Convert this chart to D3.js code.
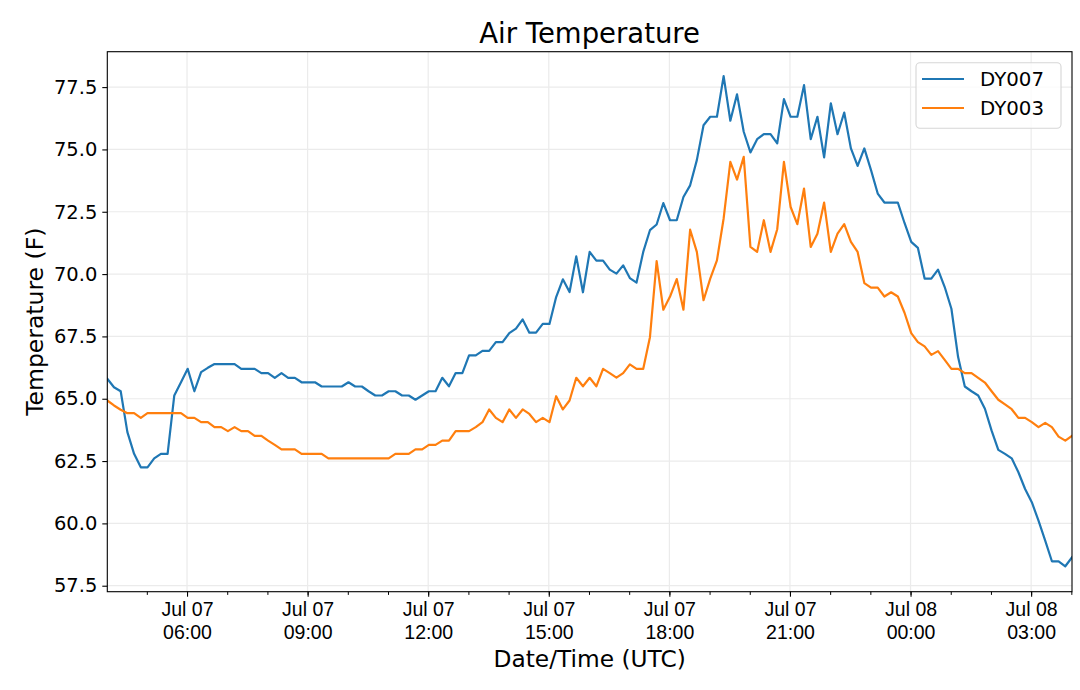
<!DOCTYPE html>
<html>
<head>
<meta charset="utf-8">
<script src="https://cdn.jsdelivr.net/npm/d3@7"></script>
<style>
  html, body { margin: 0; padding: 0; background: #fff; }
  svg { display: block; font-family: "DejaVu Sans", sans-serif; }
</style>
</head>
<body>
<svg id="chart" width="1080" height="690"></svg>
<script>
// ---- Data ----
const seriesNames = ["DY007", "DY003"];
const seriesColors = ["#1f77b4", "#ff7f0e"];
const startTime = "2019-07-07T04:01:00Z";   // first sample
const stepSeconds = 600;                     // 10 minute logging interval

const dy007 = [
  65.80, 65.46, 65.30, 63.66, 62.79, 62.25, 62.25, 62.61, 62.79, 62.79,
  65.13, 65.66, 66.20, 65.30, 66.07, 66.24, 66.39, 66.39, 66.39, 66.39,
  66.20, 66.20, 66.20, 66.03, 66.03, 65.84, 66.03, 65.84, 65.84, 65.66,
  65.66, 65.66, 65.49, 65.49, 65.49, 65.49, 65.66, 65.49, 65.49, 65.30,
  65.13, 65.13, 65.30, 65.30, 65.13, 65.13, 64.96, 65.13, 65.30, 65.30,
  65.84, 65.50, 66.03, 66.03, 66.74, 66.74, 66.92, 66.92, 67.27, 67.27,
  67.63, 67.81, 68.18, 67.65, 67.65, 68.00, 68.00, 69.08, 69.79, 69.28,
  70.71, 69.27, 70.89, 70.54, 70.54, 70.18, 70.02, 70.35, 69.84, 69.66,
  70.89, 71.76, 71.99, 72.85, 72.16, 72.16, 73.09, 73.56, 74.57, 75.97,
  76.31, 76.31, 77.94, 76.15, 77.21, 75.71, 74.88, 75.41, 75.61, 75.61,
  75.24, 77.02, 76.31, 76.31, 77.58, 75.41, 76.31, 74.68, 76.85, 75.61,
  76.48, 75.04, 74.34, 75.04, 74.17, 73.23, 72.87, 72.87, 72.87, 72.05,
  71.29, 71.05, 69.82, 69.82, 70.18, 69.48, 68.61, 66.67, 65.49, 65.30,
  65.13, 64.60, 63.72, 62.95, 62.79, 62.61, 62.05, 61.38, 60.85, 60.11,
  59.31, 58.48, 58.48, 58.28, 58.64
];

const dy003 = [
  64.93, 64.73, 64.56, 64.42, 64.42, 64.23, 64.42, 64.42, 64.42, 64.42,
  64.42, 64.42, 64.23, 64.23, 64.06, 64.06, 63.86, 63.86, 63.70, 63.86,
  63.70, 63.70, 63.51, 63.51, 63.32, 63.15, 62.97, 62.97, 62.97, 62.79,
  62.79, 62.79, 62.79, 62.61, 62.61, 62.61, 62.61, 62.61, 62.61, 62.61,
  62.61, 62.61, 62.61, 62.79, 62.79, 62.79, 62.97, 62.97, 63.15, 63.15,
  63.32, 63.32, 63.70, 63.70, 63.70, 63.86, 64.06, 64.57, 64.23, 64.06,
  64.57, 64.23, 64.57, 64.39, 64.06, 64.23, 64.06, 65.10, 64.57, 64.93,
  65.84, 65.50, 65.84, 65.50, 66.20, 66.03, 65.85, 66.03, 66.38, 66.20,
  66.20, 67.47, 70.52, 68.57, 69.10, 69.80, 68.57, 71.78, 70.89, 68.95,
  69.82, 70.55, 72.23, 74.50, 73.79, 74.70, 71.09, 70.89, 72.16, 70.89,
  71.80, 74.50, 72.69, 72.00, 73.43, 71.09, 71.62, 72.87, 70.89, 71.62,
  72.00, 71.29, 70.89, 69.64, 69.46, 69.46, 69.10, 69.27, 69.10, 68.45,
  67.63, 67.27, 67.10, 66.76, 66.91, 66.56, 66.20, 66.20, 66.03, 66.03,
  65.84, 65.65, 65.30, 64.96, 64.77, 64.58, 64.23, 64.23, 64.06, 63.86,
  64.03, 63.86, 63.48, 63.32, 63.51
];

const yTicks = [57.5, 60.0, 62.5, 65.0, 67.5, 70.0, 72.5, 75.0, 77.5];
const titleText = "Air Temperature";
const xLabelText = "Date/Time (UTC)";
const yLabelText = "Temperature (F)";

// ---- Layout ----
const W = 1080, H = 690;
const plot = { left: 107.3, right: 1072.0, top: 51.7, bottom: 591.7 };

const svg = d3.select("#chart");
const t0 = new Date(startTime).getTime();
const times = dy007.map((_, i) => new Date(t0 + i * stepSeconds * 1000));
const allSeries = [dy007, dy003];

const x = d3.scaleUtc()
  .domain(d3.extent(times))
  .range([plot.left, plot.right]);
const y = d3.scaleLinear()
  .domain([57.26, 78.92])
  .range([plot.bottom, plot.top]);

const majorTicks = d3.utcHour.every(3).range(x.domain()[0], x.domain()[1]);
const minorTicks = d3.utcHour.every(1).range(x.domain()[0], x.domain()[1]);

// Grid
const grid = svg.append("g").attr("class", "grid");
grid.selectAll("line.vx").data(majorTicks).join("line")
  .attr("x1", d => x(d)).attr("x2", d => x(d))
  .attr("y1", plot.top).attr("y2", plot.bottom)
  .attr("stroke", "#ebebeb").attr("stroke-width", 1.2);
grid.selectAll("line.hy").data(yTicks).join("line")
  .attr("x1", plot.left).attr("x2", plot.right)
  .attr("y1", d => y(d)).attr("y2", d => y(d))
  .attr("stroke", "#ebebeb").attr("stroke-width", 1.2);

// Lines
svg.append("clipPath").attr("id", "clip").append("rect")
  .attr("x", plot.left).attr("y", plot.top)
  .attr("width", plot.right - plot.left).attr("height", plot.bottom - plot.top);

const line = d3.line()
  .x((d, i) => x(times[i]))
  .y(d => y(d));

svg.append("g").attr("clip-path", "url(#clip)")
  .selectAll("path").data(allSeries).join("path")
  .attr("d", d => line(d))
  .attr("fill", "none")
  .attr("stroke", (d, i) => seriesColors[i])
  .attr("stroke-width", 2.2)
  .attr("stroke-linejoin", "round")
  .attr("stroke-linecap", "square");

// Axes
const fmtDay = d3.utcFormat("%b %d");
const fmtTime = d3.utcFormat("%H:%M");

const xAxisMinor = d3.axisBottom(x).tickValues(minorTicks).tickSize(3.2).tickFormat("");
const gxMinor = svg.append("g").attr("transform", `translate(0,${plot.bottom})`).call(xAxisMinor);
gxMinor.select(".domain").remove();
gxMinor.selectAll("line").attr("stroke", "#000").attr("stroke-width", 1);

const xAxis = d3.axisBottom(x).tickValues(majorTicks).tickSize(5).tickFormat("");
const gx = svg.append("g").attr("transform", `translate(0,${plot.bottom})`).call(xAxis);
gx.select(".domain").remove();
gx.selectAll("line").attr("stroke", "#000").attr("stroke-width", 1.1);
gx.selectAll(".tick").append("text")
  .attr("fill", "#000").attr("text-anchor", "middle")
  .style("font-size", "19.5px")
  .each(function(d) {
    const t = d3.select(this);
    t.append("tspan").attr("x", 0).attr("y", 24.5).text(fmtDay(d));
    t.append("tspan").attr("x", 0).attr("y", 47.5).text(fmtTime(d));
  });

const yAxis = d3.axisLeft(y).tickValues(yTicks).tickSize(5).tickPadding(5)
  .tickFormat(d3.format(".1f"));
const gy = svg.append("g").attr("transform", `translate(${plot.left},0)`).call(yAxis);
gy.select(".domain").remove();
gy.selectAll("line").attr("stroke", "#000").attr("stroke-width", 1.1);
gy.selectAll("text").style("font-size", "19.5px").attr("fill", "#000")
  .attr("font-family", "DejaVu Sans, sans-serif");

// Frame
svg.append("rect")
  .attr("x", plot.left).attr("y", plot.top)
  .attr("width", plot.right - plot.left).attr("height", plot.bottom - plot.top)
  .attr("fill", "none").attr("stroke", "#000").attr("stroke-width", 1.1);

// Title & labels
svg.append("text").attr("x", (plot.left + plot.right) / 2).attr("y", 43)
  .attr("text-anchor", "middle").style("font-size", "27.5px").attr("fill", "#000")
  .text(titleText);
svg.append("text").attr("x", (plot.left + plot.right) / 2).attr("y", 667)
  .attr("text-anchor", "middle").style("font-size", "23.3px").attr("fill", "#000")
  .text(xLabelText);
svg.append("text")
  .attr("transform", `translate(43,${(plot.top + plot.bottom) / 2}) rotate(-90)`)
  .attr("text-anchor", "middle").style("font-size", "23.5px").attr("fill", "#000")
  .text(yLabelText);

// Legend
const lg = svg.append("g");
lg.append("rect")
  .attr("x", 916).attr("y", 62.7).attr("width", 145).attr("height", 65.5)
  .attr("rx", 4).attr("ry", 4)
  .attr("fill", "#fff").attr("fill-opacity", 0.8)
  .attr("stroke", "#d6d6d6").attr("stroke-width", 1.1);
seriesNames.forEach((name, i) => {
  const cy = 79 + i * 29;
  lg.append("line").attr("x1", 922).attr("x2", 964).attr("y1", cy).attr("y2", cy)
    .attr("stroke", seriesColors[i]).attr("stroke-width", 2.2);
  lg.append("text").attr("x", 980).attr("y", cy + 7)
    .style("font-size", "19.8px").attr("fill", "#000").text(name);
});
</script>
</body>
</html>
